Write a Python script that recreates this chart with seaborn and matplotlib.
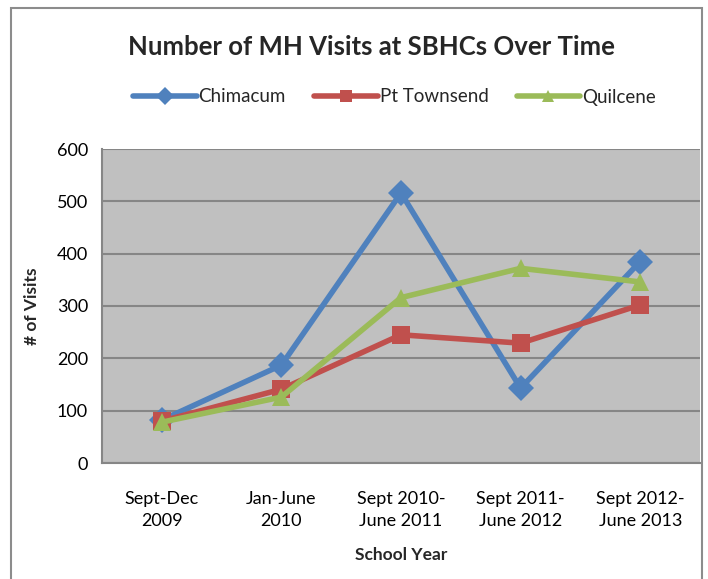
import matplotlib
matplotlib.use("Agg")
import matplotlib.pyplot as plt
from matplotlib.patches import Rectangle
from matplotlib.lines import Line2D
import seaborn as sns
import pandas as pd

# Данные
periods = ["Sept-Dec\n2009", "Jan-June\n2010", "Sept 2010-\nJune 2011",
           "Sept 2011-\nJune 2012", "Sept 2012-\nJune 2013"]
chimacum = [82, 187, 516, 143, 385]
pt_townsend = [80, 141, 245, 229, 302]
quilcene = [78, 126, 316, 372, 346]

sites = ["Chimacum", "Pt Townsend", "Quilcene"]
colors = ["#4F81BD", "#C0504D", "#9BBB59"]
markers = ["D", "s", "^"]

rows = []
for site, values in zip(sites, [chimacum, pt_townsend, quilcene]):
    for i, v in enumerate(values):
        rows.append({"period": i, "site": site, "visits": v})
df = pd.DataFrame(rows)

sns.set_theme(style="white")
plt.rcParams["font.family"] = ["Lato", "DejaVu Sans"]

fig = plt.figure(figsize=(7.08, 5.79), dpi=100)
ax = fig.add_axes([102 / 708, 1 - 463 / 579, 598 / 708, 314 / 579])
ax.set_facecolor("#C0C0C0")

sns.lineplot(data=df, x="period", y="visits", hue="site", style="site",
             palette=colors, markers=markers, dashes=False, linewidth=4,
             markersize=13, markeredgewidth=0, ax=ax, legend=False)

# Сетка
ax.set_ylim(0, 600)
ax.set_yticks(range(0, 601, 100))
ax.set_xlim(-0.5, 4.5)
ax.grid(axis="y", color="#868686", linewidth=1.5)
ax.set_axisbelow(True)
ax.set_xticks(range(5))
ax.set_xticklabels(periods, fontsize=13, color="black", linespacing=1.45)
ax.set_xticks([i - 0.5 for i in range(6)], minor=True)
ax.tick_params(axis="x", which="major", length=0, pad=20)
ax.tick_params(axis="x", which="minor", length=6, width=1.5, color="#868686")
ax.tick_params(axis="y", length=6, width=1.5, color="#868686", labelsize=13,
               labelcolor="black", pad=4)
for side in ["top", "right"]:
    ax.spines[side].set_visible(False)
for side in ["left", "bottom"]:
    ax.spines[side].set_color("#868686")
    ax.spines[side].set_linewidth(1.5)

ax.set_xlabel("School Year", fontsize=12.5, fontweight="bold", labelpad=13)
ax.set_ylabel("# of Visits", fontsize=12.5, fontweight="bold", labelpad=12)

fig.text(0.525, 1 - 47 / 579, "Number of MH Visits at SBHCs Over Time",
         ha="center", va="center", fontsize=18.5, fontweight="bold")

# Легенда
handles = [Line2D([0], [0], color=c, marker=m, linewidth=4, markersize=9,
                  markeredgewidth=0) for c, m in zip(colors, markers)]
fig.legend(handles, sites, loc="center", bbox_to_anchor=(0.557, 1 - 97 / 579),
           ncol=3, frameon=False, fontsize=13.5, handlelength=3.4,
           handletextpad=0.1, columnspacing=1.5)

# Рамка вокруг
fig.patches.append(Rectangle((11 / 708, -0.01), 691 / 708, 1 - 8 / 579 + 0.01,
                             transform=fig.transFigure, fill=False,
                             edgecolor="#8C8C8C", linewidth=1.5))

fig.savefig("out.png", dpi=100)
plt.close(fig)
